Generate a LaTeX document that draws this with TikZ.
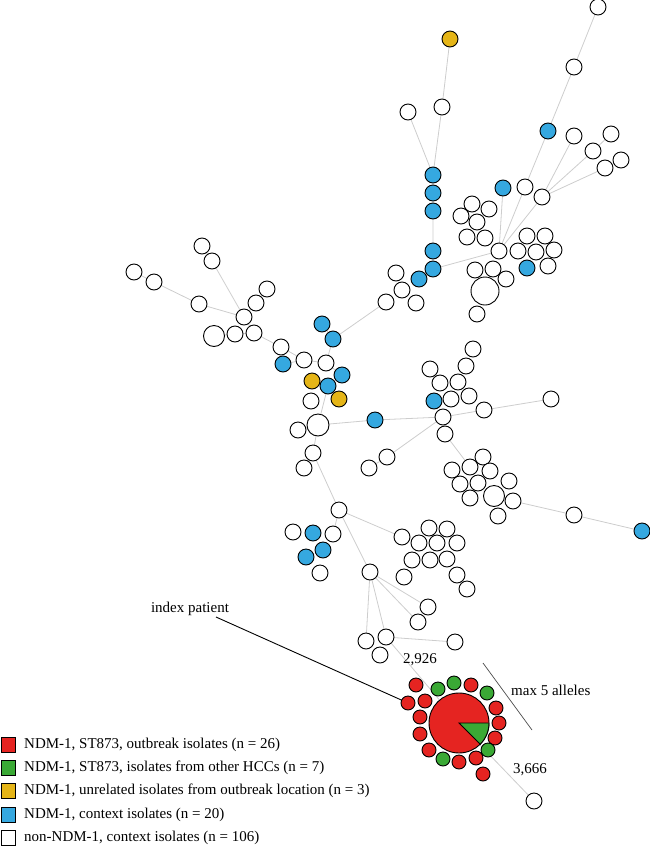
\documentclass[tikz,border=0pt]{standalone}
\usepackage{fontspec}
\setmainfont{Liberation Serif}
\usetikzlibrary{backgrounds}
\definecolor{nblue}{HTML}{35A8E0}
\definecolor{nyellow}{HTML}{E5B517}
\definecolor{nred}{HTML}{E52421}
\definecolor{ngreen}{HTML}{3AA935}
\definecolor{edgegray}{HTML}{CDCDCD}
\tikzset{
  iso/.style={circle,draw=black,line width=0.9pt,inner sep=0pt,outer sep=0pt,minimum size=16pt},
  wn/.style={iso,fill=white},
  bn/.style={iso,fill=nblue},
  yn/.style={iso,fill=nyellow},
  rn/.style={iso,fill=nred,minimum size=14pt},
  gn/.style={iso,fill=ngreen,minimum size=14pt},
  edge/.style={draw=edgegray,line width=0.8pt},
  lbl/.style={font=\fontsize{15}{18}\selectfont,inner sep=0pt},
  legbox/.style={rectangle,draw=black,line width=0.9pt,minimum width=14pt,minimum height=15pt,inner sep=0pt},
  legtext/.style={lbl,anchor=west}
}
\begin{document}
\begin{tikzpicture}[x=1pt,y=-1pt]
\useasboundingbox (0,0) rectangle (650,847);
% ---------- top right group
\node[wn] (tr1) at (598,7) {};
\node[wn] (tr2) at (574,67) {};
\node[bn] (tr3) at (548,131) {};
\node[wn] (tr4) at (574,136) {};
\node[wn] (tr5) at (611,134) {};
\node[wn] (tr6) at (593,151) {};
\node[wn] (tr7) at (621,160) {};
\node[wn] (tr8) at (605,168) {};
\node[bn] (tr9) at (503,188) {};
\node[wn] (tr10) at (525,187) {};
\node[wn] (tr11) at (542,197) {};
\node[wn] (H1) at (499,251) {};
\node[wn] (a1) at (472,204) {};
\node[wn] (a2) at (489,209) {};
\node[wn] (a3) at (461,216) {};
\node[wn] (a4) at (477,222) {};
\node[wn] (a5) at (467,237) {};
\node[wn] (a6) at (485,238) {};
\node[wn] (b1) at (527,236) {};
\node[wn] (b2) at (545,236) {};
\node[wn] (b3) at (518,251) {};
\node[wn] (b4) at (536,252) {};
\node[wn] (b5) at (554,250) {};
\node[wn] (b6) at (548,266) {};
\node[bn] (b7) at (527,268) {};
\node[wn] (c1) at (475,270) {};
\node[wn] (c2) at (493,269) {};
\node[wn] (c3) at (506,279) {};
\node[wn,minimum size=28pt] (c4) at (485,291) {};
\node[wn] (c5) at (477,314) {};
% ---------- top middle
\node[yn] (m1) at (450,39) {};
\node[wn] (m2) at (442,107) {};
\node[wn] (m3) at (408,112) {};
\node[bn] (m4) at (433,175) {};
\node[bn] (m5) at (433,193) {};
\node[bn] (m6) at (433,211) {};
\node[bn] (m7) at (433,251) {};
\node[bn] (m8) at (433,269) {};
\node[bn] (m9) at (419,279) {};
\node[wn] (m10) at (396,273) {};
\node[wn] (m11) at (402,290) {};
\node[wn] (m12) at (386,302) {};
\node[wn] (m13) at (416,303) {};
% ---------- left
\node[bn] (l1) at (322,324) {};
\node[bn] (l2) at (333,339) {};
\node[wn] (l3) at (326,363) {};
\node[wn] (l4) at (304,360) {};
\node[wn] (l5) at (281,347) {};
\node[bn] (l6) at (283,364) {};
\node[wn] (l7) at (254,333) {};
\node[wn] (l8) at (235,334) {};
\node[wn,minimum size=21pt] (l9) at (214,336) {};
\node[wn] (H2) at (244,317) {};
\node[wn] (l10) at (256,303) {};
\node[wn] (l11) at (267,289) {};
\node[wn] (l12) at (212,261) {};
\node[wn] (l13) at (202,246) {};
\node[wn] (l14) at (199,304) {};
\node[wn] (l15) at (154,282) {};
\node[wn] (l16) at (134,272) {};
\node[yn] (l17) at (312,381) {};
\node[bn] (l18) at (342,375) {};
\node[bn] (l19) at (328,386) {};
\node[yn] (l20) at (339,399) {};
\node[wn] (l21) at (311,401) {};
\node[wn,minimum size=22pt] (l22) at (318,425) {};
\node[wn] (l23) at (298,430) {};
\node[bn] (l24) at (375,420) {};
\node[wn] (l25) at (313,453) {};
\node[wn] (l26) at (304,468) {};
% ---------- middle right
\node[wn] (H3) at (443,417) {};
\node[wn] (r1) at (473,349) {};
\node[wn] (r2) at (466,366) {};
\node[wn] (r3) at (430,369) {};
\node[wn] (r4) at (440,383) {};
\node[wn] (r5) at (458,382) {};
\node[bn] (r6) at (434,401) {};
\node[wn] (r7) at (451,399) {};
\node[wn] (r8) at (469,396) {};
\node[wn] (r9) at (484,410) {};
\node[wn] (r10) at (551,399) {};
\node[wn] (r11) at (445,434) {};
\node[wn] (r12) at (387,457) {};
\node[wn] (r13) at (369,468) {};
\node[wn] (s1) at (483,457) {};
\node[wn] (s2) at (470,467) {};
\node[wn] (s3) at (452,470) {};
\node[wn] (s4) at (490,471) {};
\node[wn] (s5) at (460,484) {};
\node[wn] (s6) at (478,483) {};
\node[wn] (s7) at (509,481) {};
\node[wn] (s8) at (470,498) {};
\node[wn,minimum size=21pt] (s9) at (494,496) {};
\node[wn] (s10) at (513,501) {};
\node[wn] (s11) at (498,516) {};
\node[wn] (s12) at (574,515) {};
\node[bn] (s13) at (642,531) {};
% ---------- lower
\node[wn] (H4) at (339,510) {};
\node[wn] (u1) at (293,532) {};
\node[bn] (u2) at (313,533) {};
\node[wn] (u3) at (333,534) {};
\node[bn] (u4) at (323,550) {};
\node[bn] (u5) at (306,557) {};
\node[wn] (u6) at (320,573) {};
\node[wn] (v1) at (402,537) {};
\node[wn] (v2) at (429,528) {};
\node[wn] (v3) at (447,529) {};
\node[wn] (v4) at (419,543) {};
\node[wn] (v5) at (437,543) {};
\node[wn] (v6) at (457,543) {};
\node[wn] (v7) at (412,560) {};
\node[wn] (v8) at (430,560) {};
\node[wn] (v9) at (447,559) {};
\node[wn] (v10) at (404,577) {};
\node[wn] (v11) at (457,575) {};
\node[wn] (v12) at (467,589) {};
\node[wn] (H5) at (370,572) {};
\node[wn] (w1) at (428,607) {};
\node[wn] (w2) at (418,622) {};
\node[wn] (w3) at (366,641) {};
\node[wn] (w4) at (386,637) {};
\node[wn] (w5) at (380,655) {};
\node[wn] (w6) at (455,642) {};
% ---------- outbreak cluster
\node[iso,fill=nred,minimum size=60pt] (R) at (459,723) {};
\filldraw[fill=ngreen,draw=black,line width=0.9pt] (R.center) -- (R.east) arc[start angle=0,end angle=-45,radius=30pt] -- cycle;
\node[rn] (p1) at (416,685) {};
\node[gn] (p2) at (438,689) {};
\node[gn] (p3) at (454,683) {};
\node[rn] (p4) at (471,685) {};
\node[gn] (p5) at (487,693) {};
\node[rn] (p6) at (408,703) {};
\node[rn] (p7) at (425,701) {};
\node[rn] (p8) at (496,708) {};
\node[rn] (p9) at (420,717) {};
\node[rn] (p10) at (499,723) {};
\node[rn] (p11) at (420,734) {};
\node[rn] (p12) at (495,738) {};
\node[rn] (p13) at (429,750) {};
\node[gn] (p14) at (488,750) {};
\node[gn] (p15) at (443,759) {};
\node[rn] (p16) at (459,762) {};
\node[rn] (p17) at (476,758) {};
\node[rn] (p18) at (483,774) {};
\node[wn] (x1) at (534,801) {};
% ---------- labels
\node[lbl] (ip) at (190,609) {index patient};
\coordinate (ipend) at (216,617);
\node[lbl] (d1) at (420,660) {2,926};
\node[lbl,anchor=west] (ms) at (511,690) {max 5 alleles};
\node[lbl] (d2) at (530,770) {3,666};
\coordinate (sc1) at (483,663);
\coordinate (sc2) at (532,730);
\draw[line width=0.7pt,draw=black!70] (sc1) -- (sc2);
\draw[line width=0.9pt] (ipend) -- (p6);
% ---------- legend
\node[legbox,fill=nred] (k1) at (8,745) {};
\node[legbox,fill=ngreen] (k2) at (8,768) {};
\node[legbox,fill=nyellow] (k3) at (8,791) {};
\node[legbox,fill=nblue] (k4) at (8,815) {};
\node[legbox,fill=white] (k5) at (8,838) {};
\node[legtext] (t1) at (24,745) {NDM-1, ST873, outbreak isolates (n = 26)};
\node[legtext] (t2) at (24,768) {NDM-1, ST873, isolates from other HCCs (n = 7)};
\node[legtext] (t3) at (24,791) {NDM-1, unrelated isolates from outbreak location (n = 3)};
\node[legtext] (t4) at (24,815) {NDM-1, context isolates (n = 20)};
\node[legtext] (t5) at (24,838) {non-NDM-1, context isolates (n = 106)};
% ---------- edges
\begin{pgfonlayer}{background}
\path[edge] (tr1) -- (tr2) -- (tr3) -- (tr10) -- (H1);
\path[edge] (tr4) -- (tr11);
\path[edge] (tr5) -- (tr6) -- (tr11);
\path[edge] (tr7) -- (tr8) -- (tr11);
\path[edge] (tr11) -- (H1);
\path[edge] (tr9) -- (H1);
\path[edge] (H1) -- (m8);
\path[edge] (m1) -- (m2) -- (m4);
\path[edge] (m3) -- (m4);
\path[edge] (m4) -- (m5) -- (m6) -- (m7) -- (m8) -- (m9);
\path[edge] (m12) -- (l2);
\path[edge] (l1) -- (l2) -- (l3);
\path[edge] (l3) -- (l4) -- (l5) -- (l7) -- (H2);
\path[edge] (l4) -- (l6);
\path[edge] (l7) -- (l8) -- (l9);
\path[edge] (H2) -- (l14) -- (l15) -- (l16);
\path[edge] (H2) -- (l12) -- (l13);
\path[edge] (H2) -- (l10) -- (l11);
\path[edge] (l3) -- (l18) -- (l19) -- (l22);
\path[edge] (l17) -- (l19);
\path[edge] (l20) -- (l19);
\path[edge] (l22) -- (l23);
\path[edge] (l22) -- (l24) -- (H3);
\path[edge] (l22) -- (l25) -- (H4);
\path[edge] (l25) -- (l26);
\path[edge] (H3) -- (r12) -- (r13);
\path[edge] (H3) -- (r9) -- (r10);
\path[edge] (H3) -- (r11) -- (s2);
\path[edge] (s10) -- (s12) -- (s13);
\path[edge] (H4) -- (u3);
\path[edge] (H4) -- (v1);
\path[edge] (H4) -- (H5);
\path[edge] (H5) -- (w1);
\path[edge] (H5) -- (w2);
\path[edge] (H5) -- (w3);
\path[edge] (H5) -- (w4);
\path[edge] (w4) -- (w6);
\path[edge] (w4) -- (R);
\path[edge] (R) -- (x1);
\end{pgfonlayer}
\end{tikzpicture}
\end{document}
